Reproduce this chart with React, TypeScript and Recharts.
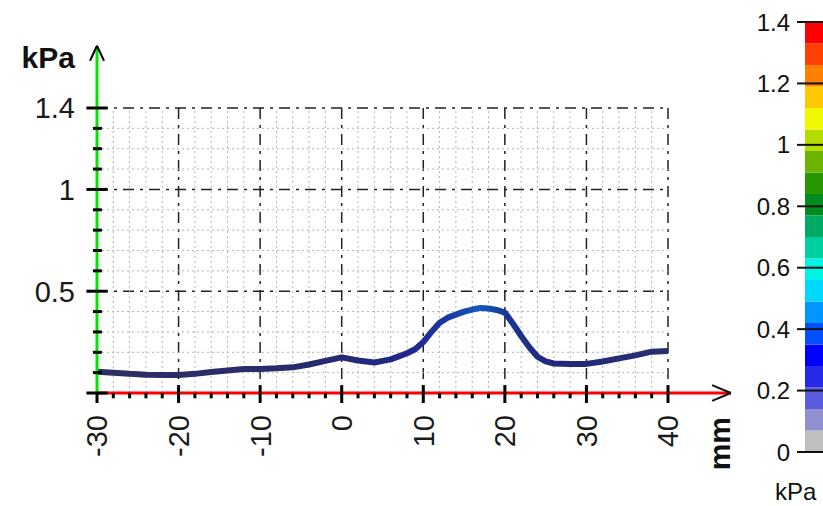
import {
  LineChart,
  Line,
  XAxis,
  YAxis,
  CartesianGrid,
  ReferenceLine,
  BarChart,
  Bar,
} from 'recharts';

// pressure profile along the sensor
const positionMm = [
  -30, -28, -26, -24, -22, -20, -18, -16, -14, -12, -10, -8, -6, -4, -2, 0, 2, 4, 6, 7, 8, 9, 10,
  11, 12, 13, 14, 15, 16, 17, 18, 19, 20, 21, 22, 23, 24, 25, 26, 28, 30, 32, 34, 36, 38, 40,
];
const pressureKPa = [
  0.104, 0.1, 0.094, 0.09, 0.089, 0.088, 0.094, 0.103, 0.11, 0.118, 0.118, 0.121, 0.126, 0.14,
  0.158, 0.175, 0.16, 0.15, 0.165, 0.18, 0.195, 0.215, 0.25, 0.3, 0.345, 0.37, 0.385, 0.4, 0.41,
  0.418, 0.415, 0.408, 0.395, 0.34, 0.28, 0.225, 0.178, 0.155, 0.145, 0.143, 0.143, 0.155, 0.17,
  0.185, 0.203, 0.206,
];

const xMajor = [-30, -20, -10, 0, 10, 20, 30, 40];
const xMinor = [
  -28, -26, -24, -22, -18, -16, -14, -12, -8, -6, -4, -2, 2, 4, 6, 8, 12, 14, 16, 18, 22, 24, 26,
  28, 32, 34, 36, 38,
];
const yLabels = [0.5, 1, 1.4];
const yMajorTicks = [0, 0.5, 1, 1.4];
const yMinor = [0.1, 0.2, 0.3, 0.4, 0.6, 0.7, 0.8, 0.9, 1.1, 1.2, 1.3];

// colour scale legend
const scaleTicks = [0, 0.2, 0.4, 0.6, 0.8, 1, 1.2, 1.4];
const bandSize = [
  0.07, 0.07, 0.07, 0.07, 0.07, 0.07, 0.07, 0.07, 0.07, 0.07, 0.07, 0.07, 0.07, 0.07, 0.07, 0.07,
  0.07, 0.07, 0.07, 0.07,
];
const bandColors = [
  '#c0c0c0', '#9090d0', '#5c5ce0', '#2828e8', '#0000ff', '#0050ff', '#0096ff', '#00d8ff',
  '#00f4e4', '#00d0a0', '#00aa64', '#008c1e', '#289600', '#6cb400', '#b4dc00', '#f0f800',
  '#ffc800', '#ff8000', '#ff4000', '#ff0000',
];

const data = positionMm.map((mm, i) => ({ mm, p: pressureKPa[i] }));
const bandRow: Record<string, number | string> = { k: 'scale' };
bandSize.forEach((v, i) => (bandRow['b' + i] = v));

const FONT = 'Liberation Sans, Arial, sans-serif';

const XTick = (props: any) => {
  const { x, y, payload } = props;
  return (
    <text
      transform={`translate(${x},${y + 22}) rotate(-90)`}
      textAnchor="end"
      dy="0.36em"
      fontFamily={FONT}
      fontSize={29}
      fill="#1a1a1a"
    >
      {payload.value}
    </text>
  );
};

const seg = (x1: number, y1: number, x2: number, y2: number) => [
  { x: x1, y: y1 },
  { x: x2, y: y2 },
];

export default function App() {
  return (
    <div style={{ position: 'absolute', left: 0, top: 0, width: 823, height: 506, background: '#fff' }}>
      <div style={{ position: 'absolute', left: 0, top: 0 }}>
        <LineChart
          width={760}
          height={506}
          data={data}
          margin={{ top: 108, right: 92, left: 37, bottom: 53 }}
        >
          <defs>
            <linearGradient id="profileStroke" x1="0" y1="0" x2="1" y2="0">
              <stop offset="0%" stopColor="#2e3060" />
              <stop offset="40%" stopColor="#262a70" />
              <stop offset="55%" stopColor="#20288a" />
              <stop offset="62%" stopColor="#1a3aa8" />
              <stop offset="67%" stopColor="#1458c0" />
              <stop offset="72%" stopColor="#1a3496" />
              <stop offset="80%" stopColor="#22287a" />
              <stop offset="100%" stopColor="#283072" />
            </linearGradient>
          </defs>
          {xMinor.map((v) => (
            <ReferenceLine key={'gx' + v} x={v} stroke="#b4b4b4" strokeDasharray="2 3" />
          ))}
          {yMinor.map((v) => (
            <ReferenceLine key={'gy' + v} y={v} stroke="#b4b4b4" strokeDasharray="2 3" />
          ))}
          <CartesianGrid stroke="#222" strokeWidth={1.5} strokeDasharray="11 6 3 6" />
          <XAxis
            type="number"
            dataKey="mm"
            domain={[-30, 40]}
            ticks={xMajor}
            height={60}
            axisLine={false}
            tickLine={false}
            tickSize={0}
            tickMargin={0}
            tick={<XTick />}
            interval={0}
          />
          <YAxis
            type="number"
            domain={[0, 1.4]}
            ticks={yLabels}
            width={60}
            axisLine={false}
            tickLine={false}
            tickSize={0}
            tickMargin={22}
            interval={0}
            tick={{ fontFamily: FONT, fontSize: 29, fill: '#1a1a1a' }}
          />
          <Line
            dataKey="p"
            type="linear"
            stroke="url(#profileStroke)"
            strokeWidth={6}
            strokeLinejoin="round"
            dot={false}
            isAnimationActive={false}
          />
          {/* axes */}
          <ReferenceLine segment={seg(-30, 0, 47.7, 0)} stroke="#ff0000" strokeWidth={3} ifOverflow="visible" />
          <ReferenceLine segment={seg(-30, 0, -30, 1.7)} stroke="#00e600" strokeWidth={3} ifOverflow="visible" />
          {xMajor.slice(1).map((v) => (
            <ReferenceLine key={'tx' + v} segment={seg(v, 0.039, v, -0.049)} stroke="#000" strokeWidth={3} ifOverflow="visible" />
          ))}
          <ReferenceLine segment={seg(-30, 0, -30, -0.049)} stroke="#000" strokeWidth={3} ifOverflow="visible" />
          {xMinor.map((v) => (
            <ReferenceLine key={'mx' + v} segment={seg(v, 0, v, -0.026)} stroke="#000" strokeWidth={3} ifOverflow="visible" />
          ))}
          {yMajorTicks.map((v) => (
            <ReferenceLine key={'ty' + v} segment={seg(-31.3, v, -28.7, v)} stroke="#000" strokeWidth={3} ifOverflow="visible" />
          ))}
          {yMinor.map((v) => (
            <ReferenceLine key={'my' + v} segment={seg(-30.5, v, -29.4, v)} stroke="#000" strokeWidth={3} ifOverflow="visible" />
          ))}
          {/* arrow heads */}
          <ReferenceLine segment={seg(-30.86, 1.632, -30, 1.706)} stroke="#000" strokeWidth={2} ifOverflow="visible" />
          <ReferenceLine segment={seg(-30, 1.706, -29.14, 1.632)} stroke="#000" strokeWidth={2} ifOverflow="visible" />
          <ReferenceLine segment={seg(45.4, 0.039, 47.7, 0)} stroke="#111" strokeWidth={2} ifOverflow="visible" />
          <ReferenceLine segment={seg(47.7, 0, 45.4, -0.039)} stroke="#111" strokeWidth={2} ifOverflow="visible" />
          <text x={75} y={68} textAnchor="end" fontFamily={FONT} fontWeight="bold" fontSize={30} fill="#111">
            kPa
          </text>
          <text
            transform="translate(730,417) rotate(-90)"
            textAnchor="end"
            fontFamily={FONT}
            fontWeight="bold"
            fontSize={30}
            fill="#111"
          >
            mm
          </text>
        </LineChart>
      </div>
      <div style={{ position: 'absolute', left: 700, top: 0 }}>
        <BarChart
          width={123}
          height={506}
          data={[bandRow]}
          margin={{ top: 22, right: 0, left: 0, bottom: 54 }}
          barCategoryGap={0}
        >
          <XAxis dataKey="k" hide />
          <YAxis
            type="number"
            domain={[0, 1.4]}
            ticks={scaleTicks}
            width={105}
            axisLine={false}
            tickLine={{ stroke: '#111', strokeWidth: 2 }}
            tickSize={8}
            tickMargin={7}
            interval={0}
            tick={{ fontFamily: FONT, fontSize: 24, fill: '#111' }}
          />
          {bandSize.map((_, i) => (
            <Bar key={i} dataKey={'b' + i} stackId="s" fill={bandColors[i]} isAnimationActive={false} />
          ))}
          {scaleTicks.map((v) => (
            <ReferenceLine key={v} y={v} stroke="#111" strokeWidth={2} />
          ))}
          <text x={75} y={500} fontFamily={FONT} fontSize={24} fill="#111">
            kPa
          </text>
        </BarChart>
      </div>
    </div>
  );
}
